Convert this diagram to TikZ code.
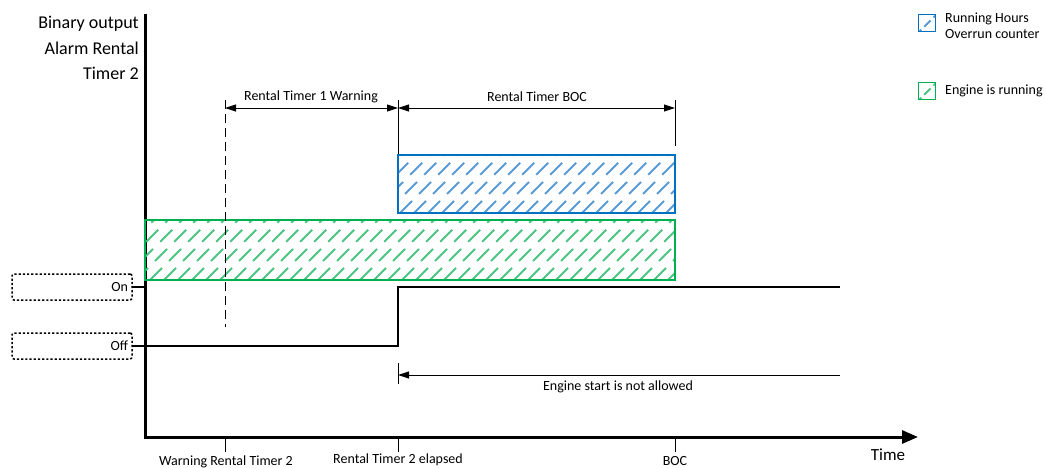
\documentclass[tikz,border=0pt]{standalone}
\usepackage{fontspec}
\setmainfont{Carlito}
\usetikzlibrary{arrows.meta}
\definecolor{bluebd}{HTML}{0070C0}
\definecolor{bluehatch}{HTML}{5B9BD5}
\definecolor{greenbd}{HTML}{00B050}
\definecolor{greenhatch}{HTML}{4CC584}
\begin{document}
\begin{tikzpicture}[x=1pt,y=-1pt,
  axis/.style={line width=3pt, -{Triangle[length=16pt,width=13pt]}},
  sig/.style={line width=2.5pt},
  dotbox/.style={draw, line width=1.5pt, dash pattern=on 2.2pt off 2pt, rounded corners=2pt, minimum width=120pt, minimum height=26pt, text width=112pt, align=right, inner sep=4pt, font=\fontsize{14}{16}\selectfont},
  small/.style={font=\fontsize{14}{16}\selectfont, inner sep=0pt},
  big/.style={font=\fontsize{18}{25.5}\selectfont, inner sep=0pt},
  dim/.style={line width=0.9pt, {Triangle[length=11pt,width=7pt]}-{Triangle[length=11pt,width=7pt]}},
  tick/.style={line width=0.9pt},
  hatchb/.style={bluehatch, line width=1.8pt, dash pattern=on 17pt off 10pt},
  hatchg/.style={greenhatch, line width=1.8pt, dash pattern=on 17pt off 10pt}
]
\useasboundingbox (0,0) rectangle (1045,468);

% axes
\coordinate (O) at (145,437);
\coordinate (ytop) at (145,14);
\coordinate (xend) at (918,437);
\draw[axis] (ytop) -- (O) -- (xend);
\node[big, anchor=north east, align=right] (ylab) at (139,16) {Binary output\\Alarm Rental\\Timer 2};
\node[big, font=\fontsize{17}{20}\selectfont] (timelab) at (888,455) {Time};

% time ticks
\coordinate (t1) at (225,437);
\coordinate (t2) at (398,437);
\coordinate (t3) at (675,437);
\draw[tick] (t1) -- ++(0,15);
\draw[tick] (t2) -- ++(0,15);
\draw[tick] (t3) -- ++(0,15);
\node[small] (l1) at (226,462) {Warning Rental Timer 2};
\node[small] (l2) at (398,460) {Rental Timer 2 elapsed};
\node[small] (l3) at (675,461) {BOC};

% On / Off boxes
\node[dotbox] (onbox) at (72,287) {On};
\node[dotbox] (offbox) at (72,346) {Off};
\draw[line width=1.2pt] (onbox.east) -- (onbox.east -| O);
\draw[line width=1.2pt] (offbox.east) -- (offbox.east -| O);

% green box (engine running)
\begin{scope}
\clip (145,220) rectangle (675,280);
\foreach \i in {80,94,...,690} \draw[hatchg] (\i,280) -- ++(70,-70);
\end{scope}
\node[draw=greenbd, line width=1.5pt, minimum width=530pt, minimum height=60pt, inner sep=0pt] (gbox) at (410,250) {};

% blue box (running hours overrun)
\begin{scope}
\clip (398,155) rectangle (675,213);
\foreach \i in {330,344,...,690} \draw[hatchb] (\i,213) -- ++(70,-70);
\end{scope}
\node[draw=bluebd, line width=1.5pt, minimum width=277pt, minimum height=58pt, inner sep=0pt] (bbox) at (536.5,184) {};

% signal
\coordinate (s0) at (145,346);
\coordinate (s1) at (398,346);
\coordinate (s2) at (398,287);
\coordinate (s3) at (840,287);
\draw[sig] (s0) -- (s1) -- (s2) -- (s3);

% verticals
\coordinate (v1t) at (225,100);
\coordinate (v1b) at (225,327);
\coordinate (v2t) at (398,100);
\coordinate (v3t) at (675,100);
\draw[tick, dash pattern=on 9pt off 5pt] (v1t) -- (v1b);
\draw[tick] (v2t) -- (bbox.north -| v2t);
\draw[tick] (v3t) -- (675,146);

% dimension arrows
\coordinate (d1) at (225,108);
\coordinate (d2) at (398,108);
\coordinate (d3) at (675,108);
\draw[dim] (d1) -- (d2);
\draw[dim] (d2) -- (d3);
\node[small] (w1) at (311,97) {Rental Timer 1 Warning};
\node[small] (w2) at (537,97) {Rental Timer BOC};

% engine start not allowed
\coordinate (e0) at (398,363);
\coordinate (e1) at (398,384);
\coordinate (ea) at (840,375);
\draw[tick] (e0) -- (e1);
\draw[tick, -{Triangle[length=11pt,width=7pt]}] (ea) -- (ea -| e0);
\node[small] (el) at (618,387) {Engine start is not allowed};

% legend
\begin{scope}
\clip (919,15) rectangle (935,31);
\draw[hatchb, dash pattern=on 9pt off 4pt] (915,36) -- ++(24,-24);
\end{scope}
\node[draw=bluebd, line width=1.5pt, minimum size=17pt, inner sep=0pt] (lgb) at (927,23) {};
\node[small, anchor=west, align=left] (lgbt) at (945,26) {Running Hours\\Overrun counter};
\begin{scope}
\clip (919,83) rectangle (935,99);
\draw[hatchg, dash pattern=on 9pt off 4pt] (915,104) -- ++(24,-24);
\end{scope}
\node[draw=greenbd, line width=1.5pt, minimum size=17pt, inner sep=0pt] (lgg) at (927,91) {};
\node[small, anchor=west] (lggt) at (945,91) {Engine is running};
\end{tikzpicture}
\end{document}
